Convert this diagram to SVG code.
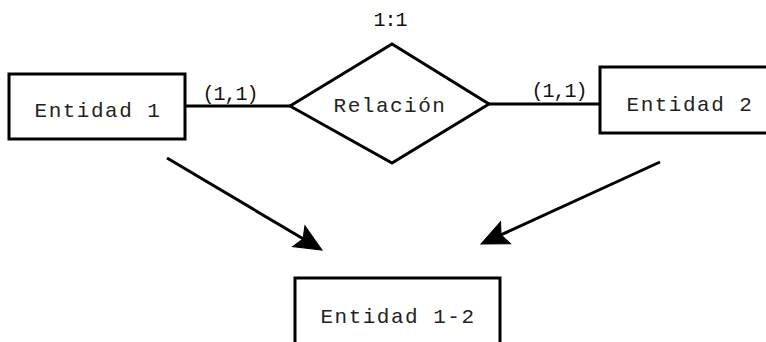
<svg xmlns="http://www.w3.org/2000/svg" width="766" height="342" viewBox="0 0 766 342">
<style>
.box{fill:#fff;stroke:#000;stroke-width:3}
.t{font-family:"Liberation Mono","Courier New",monospace;font-size:21px;fill:#222;text-anchor:middle;letter-spacing:1.5px}
.c{font-family:"Liberation Mono","Courier New",monospace;font-size:20px;fill:#111;text-anchor:middle;letter-spacing:-1px}
.ln{stroke:#000;stroke-width:3;fill:none}
</style>
<defs>
<marker id="ah" viewBox="0 0 10 10" refX="-20" refY="0" markerWidth="10" markerHeight="10" markerUnits="userSpaceOnUse" orient="auto" overflow="visible">
<path d="M-27,-12 L0,0 L-27,12 L-22,0 Z" fill="#000" stroke="#000" stroke-width="1"/>
</marker>
</defs>
<rect width="766" height="342" fill="#fff"/>
<g id="connectors">
<line class="ln" x1="185" y1="106" x2="290" y2="106"/>
<line class="ln" x1="489" y1="104" x2="600" y2="104"/>
<line class="ln" x1="167" y1="158" x2="304.8" y2="239.8" marker-end="url(#ah)"/>
<line class="ln" x1="660" y1="162" x2="499.2" y2="235.7" marker-end="url(#ah)"/>
<text class="c" x="230" y="100">(1,1)</text>
<text class="c" x="559" y="97">(1,1)</text>
</g>
<g id="entidad1">
<rect class="box" x="9" y="74" width="176" height="65"/>
<text class="t" x="98" y="117">Entidad 1</text>
</g>
<g id="relacion">
<polygon class="box" points="290,106 392,44 489,104 392,163"/>
<text class="t" x="390" y="112">Relación</text>
<text class="c" x="390" y="26">1:1</text>
</g>
<g id="entidad2">
<rect class="box" x="600" y="67" width="180" height="66"/>
<text class="t" x="690" y="111">Entidad 2</text>
</g>
<g id="entidad12">
<rect class="box" x="295" y="278" width="205" height="80"/>
<text class="t" x="398" y="323">Entidad 1-2</text>
</g>
</svg>
